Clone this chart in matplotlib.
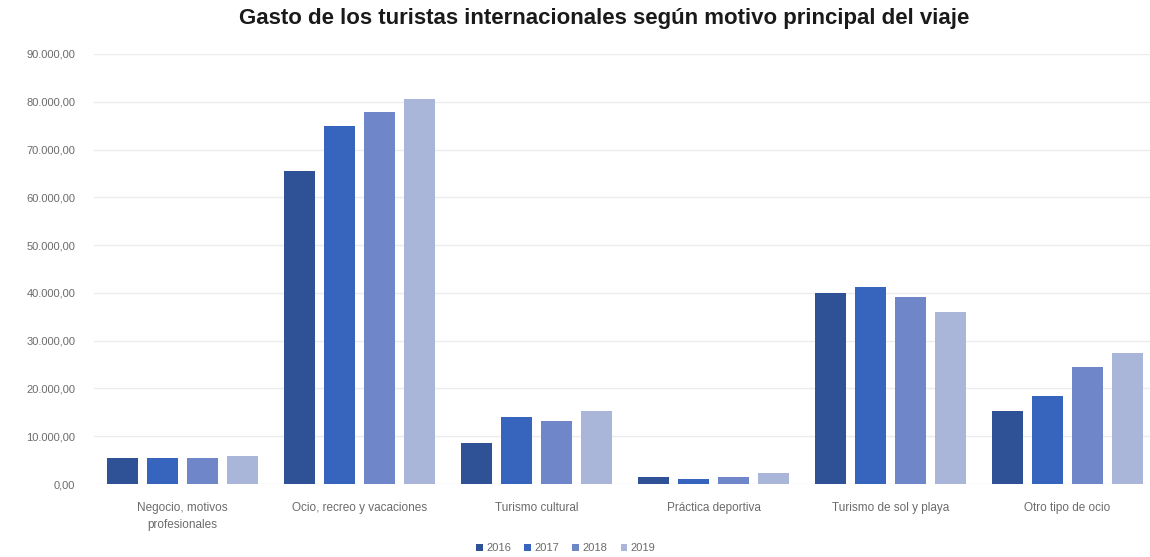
import matplotlib.pyplot as plt
import numpy as np
from matplotlib.ticker import FuncFormatter

categorias = ["Negocio, motivos\nprofesionales", "Ocio, recreo y vacaciones", "Turismo cultural",
              "Práctica deportiva", "Turismo de sol y playa", "Otro tipo de ocio"]
años = ["2016", "2017", "2018", "2019"]
gasto_2016 = [5400, 65500, 8600, 1500, 40000, 15300]
gasto_2017 = [5400, 74900, 14000, 1000, 41200, 18400]
gasto_2018 = [5400, 77800, 13200, 1500, 39100, 24500]
gasto_2019 = [5900, 80500, 15300, 2300, 36000, 27400]
series = [gasto_2016, gasto_2017, gasto_2018, gasto_2019]
colores = ["#2f5296", "#3764bd", "#6f87c9", "#aab6d9"]

plt.rcParams['font.family'] = ['Liberation Sans', 'DejaVu Sans']

fig = plt.figure(figsize=(11.5, 5.57), dpi=100)
ax = fig.add_axes([94 / 1150, 73 / 557, (1150 - 94) / 1150, (484 - 54) / 557])

x = np.arange(len(categorias))
ancho = 0.18
paso = 0.226
for i, (vals, col, a) in enumerate(zip(series, colores, años)):
    ax.bar(x + (i - 1.5) * paso, vals, ancho, color=col, label=a, zorder=3)

ax.set_xlim(-0.5, 5.466)
ax.set_ylim(0, 90000)
ax.set_yticks(np.arange(0, 90001, 10000))
ax.yaxis.set_major_formatter(FuncFormatter(lambda v, p: f"{v:,.2f}".replace(",", "X").replace(".", ",").replace("X", ".")))
ax.grid(axis='y', color='#ececec', linewidth=1, zorder=0)
for s in ax.spines.values():
    s.set_visible(False)
ax.tick_params(axis='both', length=0, labelsize=8, labelcolor='#6b6b6b')
ax.tick_params(axis='y', pad=13.5)
ax.set_xticks(x)
ax.set_xticklabels(categorias, fontsize=8.5, color='#6b6b6b', linespacing=1.6)
ax.tick_params(axis='x', pad=13)

fig.suptitle("Gasto de los turistas internacionales según motivo principal del viaje",
             x=0.525, y=0.985, fontsize=16, fontweight='bold', color='#1a1a1a')

leg = fig.legend(loc='center', bbox_to_anchor=(0.492, 0.016), ncol=4, frameon=False, fontsize=8,
                 handlelength=0.6, handleheight=0.6, handletextpad=0.3, columnspacing=1.2)
for t in leg.get_texts():
    t.set_color('#6b6b6b')

fig.savefig("out.png", dpi=100, facecolor='white')
